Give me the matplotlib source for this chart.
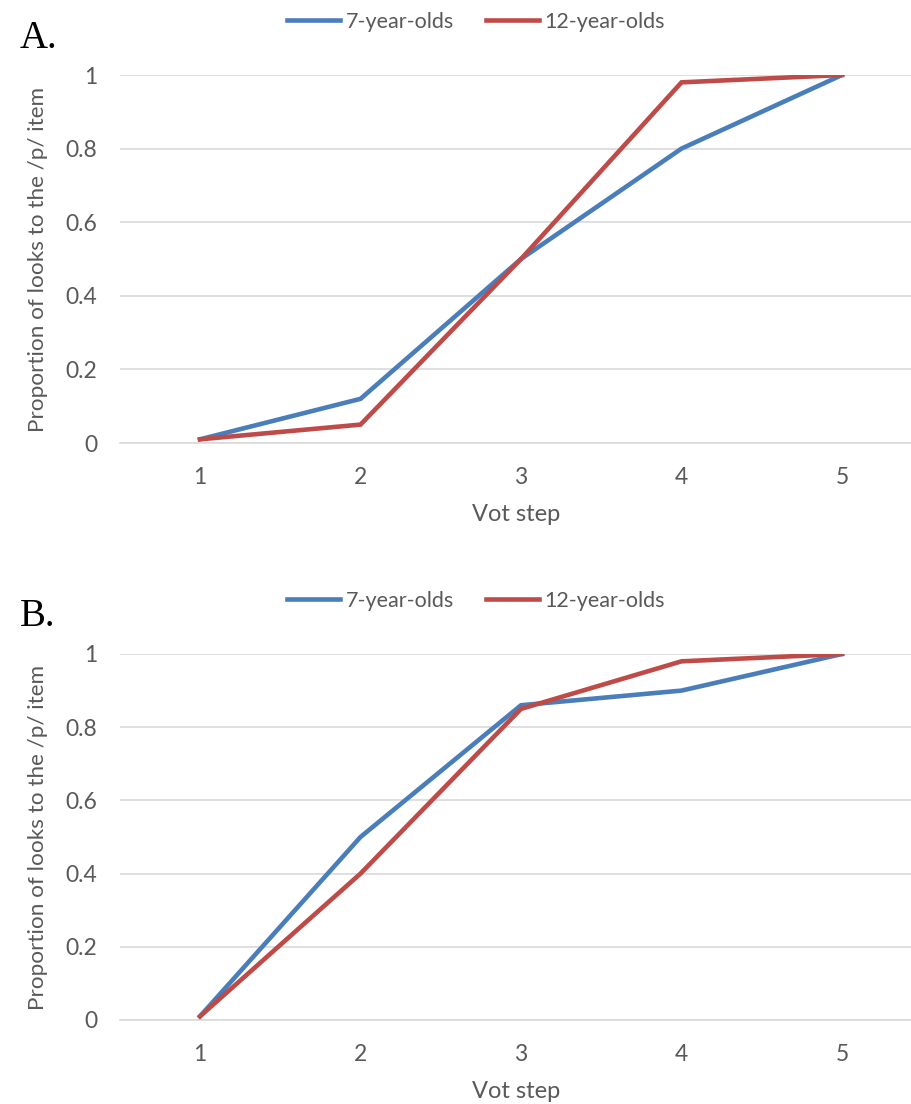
import matplotlib
matplotlib.use('Agg')
import matplotlib.pyplot as plt

vot_steps = [1, 2, 3, 4, 5]
series_names = ['7-year-olds', '12-year-olds']

a_7yr = [0.01, 0.12, 0.50, 0.80, 1.00]
a_12yr = [0.01, 0.05, 0.50, 0.98, 1.00]

b_7yr = [0.01, 0.50, 0.86, 0.90, 1.00]
b_12yr = [0.01, 0.40, 0.85, 0.98, 1.00]

y_ticks = [0, 0.2, 0.4, 0.6, 0.8, 1]
y_ticklabels = ['0', '0.2', '0.4', '0.6', '0.8', '1']

azul = '#4A7EBB'
rojo = '#BE4B48'
gris_texto = '#595959'
gris_linea = '#D9D9D9'

plt.rcParams['font.family'] = ['Lato', 'DejaVu Sans']

W, H = 912, 1104
fig = plt.figure(figsize=(W / 100, H / 100), dpi=100)


def panel(top_px, bottom_px, serie_7, serie_12, letra, legend_y):
    left = 119.75 / W
    ax = fig.add_axes([left, 1 - bottom_px / H, 1 - left, (bottom_px - top_px) / H])
    ax.plot(vot_steps, serie_7, color=azul, lw=3.3, label=series_names[0],
            solid_joinstyle='miter', zorder=3)
    ax.plot(vot_steps, serie_12, color=rojo, lw=3.3, label=series_names[1],
            solid_joinstyle='miter', zorder=3)

    ax.set_xlim(0.5, 1 + (W - 200) / 160.5)
    ax.set_ylim(0, 1)
    ax.set_xticks(vot_steps)
    ax.set_yticks(y_ticks)
    ax.set_yticklabels(y_ticklabels)
    ax.tick_params(axis='both', length=0, colors=gris_texto, labelsize=16.5)
    ax.tick_params(axis='x', pad=17)
    ax.tick_params(axis='y', pad=16)
    ax.grid(axis='y', color=gris_linea, lw=1.2, zorder=0)
    for s in ['top', 'right', 'left']:
        ax.spines[s].set_visible(False)
    ax.spines['bottom'].set_color(gris_linea)
    ax.spines['bottom'].set_linewidth(1.2)

    ax.set_xlabel('Vot step', fontsize=17, color=gris_texto, labelpad=12)
    ax.set_ylabel('Proportion of looks to the /p/ item', fontsize=16.2, color=gris_texto)
    # la coordenada x es el borde derecho del texto girado
    ax.yaxis.set_label_coords((48 - 119.75) / (W - 119.75), 0.5)

    ax.legend(loc='center', bbox_to_anchor=(476 / W, 1 - legend_y / H),
              bbox_transform=fig.transFigure, ncol=2, frameon=False,
              fontsize=15.5, handlelength=2.45, handletextpad=0.25,
              columnspacing=1.5, labelcolor=gris_texto)

    fig.text(20 / W, 1 - (top_px - 37) / H, letra, family='Liberation Serif',
             fontsize=28, va='center', ha='left', color='black')
    return ax


panel(75, 443, a_7yr, a_12yr, 'A.', 22)
panel(654, 1020, b_7yr, b_12yr, 'B.', 601)

fig.savefig('out.png', dpi=100)
